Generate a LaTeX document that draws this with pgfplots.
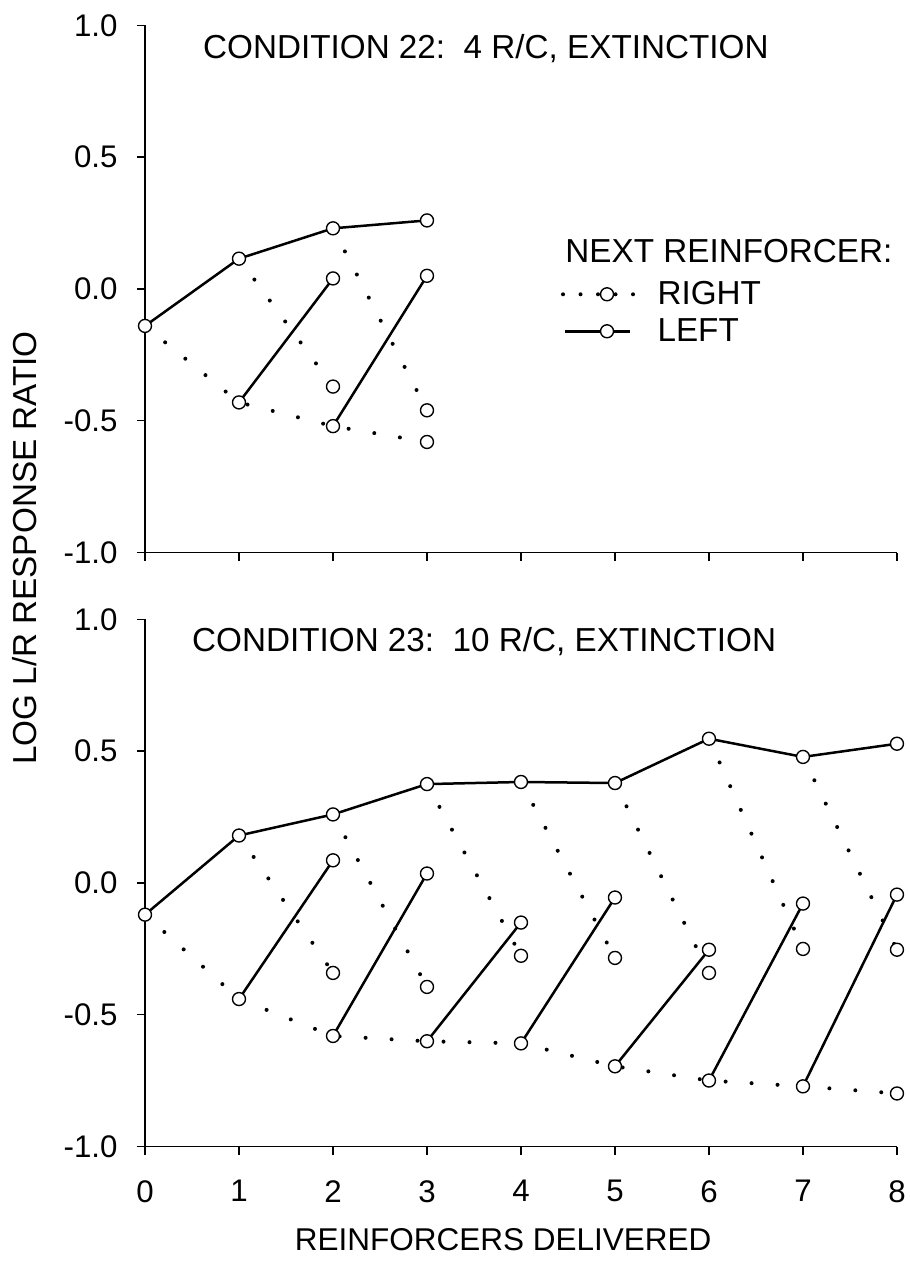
\documentclass[border=0pt]{standalone}
\usepackage{fontspec}
\setmainfont{Liberation Sans}
\usepackage{pgfplots}
\pgfplotsset{compat=1.18}
\tikzset{ttl/.style={anchor=base west, inner sep=0pt, font=\fontsize{13.3bp}{16bp}\selectfont}}
\begin{document}
\begin{tikzpicture}
\pgfplotsset{
  panel/.style={
    anchor=south west,
    scale only axis, width=300.8bp, height=211bp,
    xmin=0, xmax=8, ymin=-1, ymax=1,
    axis x line*=bottom, axis y line*=left,
    axis line style={-, line width=0.5bp, black},
    x axis line style={shorten <=-3.2bp},
    tick align=outside, major tick length=3.2bp,
    tick style={line width=0.5bp, black},
    xtick={0,1,2,3,4,5,6,7,8}, ytick={-1,-0.5,0,0.5,1},
    yticklabels={-1.0,-0.5,0.0,0.5,1.0},
    xticklabels={0,1,2,3,4,5,6,7,8},
    tick label style={font=\fontsize{12.5bp}{15bp}\selectfont},
    yticklabel style={anchor=east, inner sep=0pt, xshift=-7.6bp},
    xticklabel style={anchor=north, inner sep=0pt, yshift=-10bp},
    clip=false,
  },
  sol/.style={black, line width=1bp, mark=none, forget plot},
  dts/.style={black, line width=1.6bp, line cap=round, dash pattern=on 0pt off 10.4bp, dash phase=0.01bp, mark=none, forget plot},
  pts/.style={only marks, mark=*, mark size=2.6bp, mark options={fill=white, draw=black, line width=0.55bp, solid}, forget plot},
}
% ---------------- top panel: condition 22 ----------------
\begin{axis}[panel, at={(0,237.6bp)}, xticklabels={},
  legend style={draw=none, fill=none, inner sep=0pt, outer sep=0pt,
    at={(axis cs:4.426,0.033)}, anchor=north west,
    font=\fontsize{13.3bp}{16bp}\selectfont, row sep=5.2bp,
    nodes={inner sep=0pt, text height=9.6bp, text depth=0pt},
    /tikz/every odd column/.append style={column sep=9bp}},
  legend cell align=left]
\addplot[sol] coordinates {(0,-0.14) (1,0.115) (2,0.23) (3,0.26)};
\addplot[dts] coordinates {(0,-0.14) (1,-0.43) (2,-0.52) (3,-0.58)};
\addplot[sol] coordinates {(1,-0.43) (2,0.04)};
\addplot[sol] coordinates {(2,-0.52) (3,0.05)};
\addplot[dts] coordinates {(1,0.115) (2,-0.37)};
\addplot[dts] coordinates {(2,0.23) (3,-0.46)};
\addplot[pts] coordinates {(0,-0.14) (1,0.115) (2,0.23) (3,0.26) (1,-0.43) (2,-0.52) (3,-0.58) (2,0.04) (3,0.05) (2,-0.37) (3,-0.46)};
\node[ttl] at (axis cs:0.614,0.875) {CONDITION 22:\ \ 4 R/C, EXTINCTION};
\node[ttl] at (axis cs:4.468,0.10) {NEXT REINFORCER:};
\addlegendimage{legend image code/.code={
  \draw[black, line width=1.6bp, line cap=round, dash pattern=on 0pt off 7bp] (0bp,-0.8bp) -- (28bp,-0.8bp);
  \draw[black, fill=white, line width=0.55bp] (17.6bp,-0.8bp) circle (2.6bp);}}
\addlegendentry{RIGHT}
\addlegendimage{legend image code/.code={
  \draw[black, line width=1bp] (0.8bp,-0.8bp) -- (26.8bp,-0.8bp);
  \draw[black, fill=white, line width=0.55bp] (17.6bp,-0.8bp) circle (2.6bp);}}
\addlegendentry{LEFT}
\end{axis}
% ---------------- bottom panel: condition 23 ----------------
\begin{axis}[panel, at={(0,0)}]
\addplot[sol] coordinates {(0,-0.12) (1,0.18) (2,0.26) (3,0.375) (4,0.383) (5,0.379) (6,0.547) (7,0.478) (8,0.528)};
\addplot[dts] coordinates {(0,-0.12) (1,-0.44) (2,-0.58) (3,-0.60) (4,-0.608) (5,-0.695) (6,-0.749) (7,-0.771) (8,-0.798)};
\addplot[sol] coordinates {(1,-0.44) (2,0.086)};
\addplot[sol] coordinates {(2,-0.58) (3,0.036)};
\addplot[sol] coordinates {(3,-0.60) (4,-0.15)};
\addplot[sol] coordinates {(4,-0.608) (5,-0.055)};
\addplot[sol] coordinates {(5,-0.695) (6,-0.253)};
\addplot[sol] coordinates {(6,-0.749) (7,-0.078)};
\addplot[sol] coordinates {(7,-0.771) (8,-0.044)};
\addplot[dts] coordinates {(1,0.18) (2,-0.341)};
\addplot[dts] coordinates {(2,0.26) (3,-0.394)};
\addplot[dts] coordinates {(3,0.375) (4,-0.276)};
\addplot[dts] coordinates {(4,0.383) (5,-0.284)};
\addplot[dts] coordinates {(5,0.379) (6,-0.341)};
\addplot[dts] coordinates {(6,0.547) (7,-0.25)};
\addplot[dts] coordinates {(7,0.478) (8,-0.253)};
\addplot[pts] coordinates {(0,-0.12) (1,0.18) (2,0.26) (3,0.375) (4,0.383) (5,0.379) (6,0.547) (7,0.478) (8,0.528)
  (1,-0.44) (2,-0.58) (3,-0.60) (4,-0.608) (5,-0.695) (6,-0.749) (7,-0.771) (8,-0.798)
  (2,0.086) (3,0.036) (4,-0.15) (5,-0.055) (6,-0.253) (7,-0.078) (8,-0.044)
  (2,-0.341) (3,-0.394) (4,-0.276) (5,-0.284) (6,-0.341) (7,-0.25) (8,-0.253)};
\node[ttl] at (axis cs:0.497,0.876) {CONDITION 23:\ \ 10 R/C, EXTINCTION};
\end{axis}
\node[rotate=90, inner sep=0pt, font=\fontsize{13.3bp}{16bp}\selectfont] at (-48bp,239.5bp) {LOG L/R RESPONSE RATIO};
\node[anchor=base, inner sep=0pt, font=\fontsize{12.6bp}{15bp}\selectfont] at (143.3bp,-41.3bp) {REINFORCERS DELIVERED};
\path (-58bp,-46.1bp) rectangle (306bp,458.7bp);
\end{tikzpicture}
\end{document}
